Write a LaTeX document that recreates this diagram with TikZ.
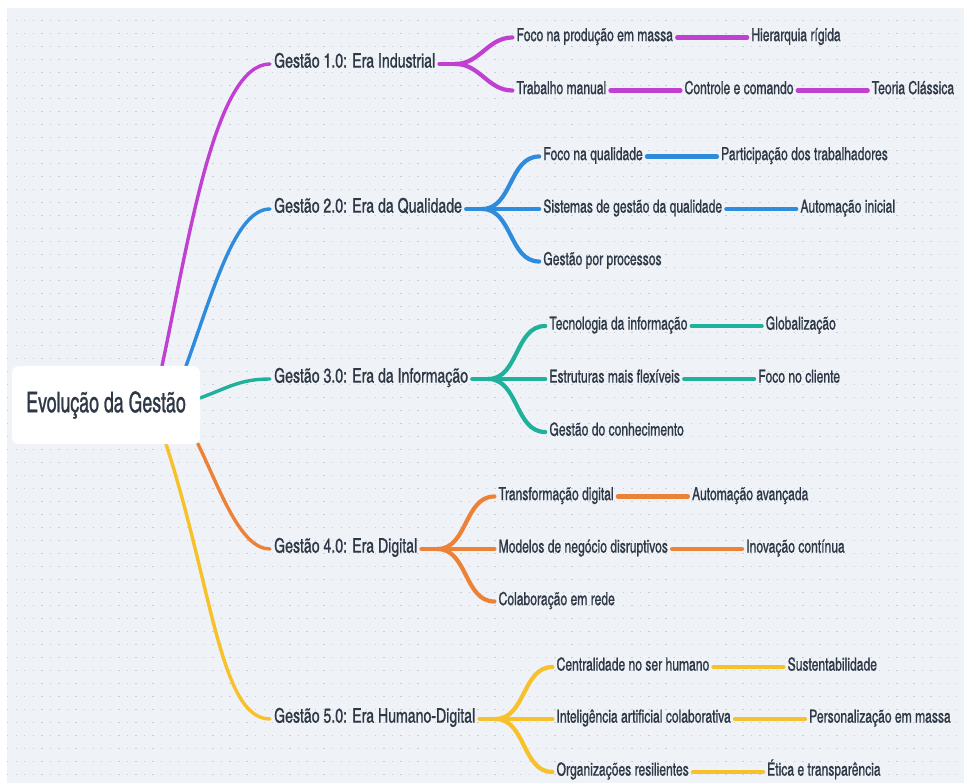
\documentclass[tikz,border=0pt]{standalone}
\usepackage{fontspec}
\setmainfont{texgyreheroscn-regular.otf}[FakeStretch=0.82, FakeBold=0.9]
\newfontfamily\erafont{texgyreheroscn-regular.otf}[FakeStretch=0.86, FakeBold=0.9]
\newfontfamily\rootfont{texgyreheroscn-regular.otf}[FakeStretch=0.76, FakeBold=0.9]
\usepackage{tikz}
\usetikzlibrary{positioning}

\definecolor{ink}{RGB}{46,56,70}
\definecolor{paper}{RGB}{239,242,246}
\definecolor{dotgray}{RGB}{200,205,214}
\definecolor{cmag}{RGB}{192,64,210}
\definecolor{cblue}{RGB}{47,139,219}
\definecolor{cteal}{RGB}{32,177,156}
\definecolor{corange}{RGB}{236,130,56}
\definecolor{cyellow}{RGB}{247,193,44}

\begin{document}
\begin{tikzpicture}[
      x=1pt, y=1pt,
      rootbox/.style={fill=white, rounded corners=7pt, minimum width=188pt, minimum height=78pt, text=ink, font=\rootfont\fontsize{28.5}{32}\selectfont},
      era/.style={text=ink, inner xsep=4pt, inner ysep=2pt, text height=0.72em, text depth=0pt, font=\erafont\fontsize{20}{23}\selectfont},
      topic/.style={text=ink, inner xsep=4pt, inner ysep=2pt, text height=0.72em, text depth=0pt, font=\fontsize{18}{21}\selectfont},
      limb/.style={line width=3.4pt, line cap=round},
      twig/.style={line width=4.2pt, line cap=round},
      dotrow/.style={dotgray, line width=1.3pt, dash pattern=on 1.3pt off 7.25pt},
      node distance=70pt
    ]
    \useasboundingbox (0,0) rectangle (964,-783);
    \fill[white] (0,0) rectangle (964,-783);
    \fill[paper] (7,-8) rectangle (964,-783);
    \foreach \r in {0,...,58}
      \draw[dotrow] (7.05,{-20.7-13*\r}) -- (964,{-20.7-13*\r});

    % eras
    \node[era, anchor=west] (g1) at (270,-64) {Gestão 1.0: Era Industrial};
    \node[era, anchor=west] (g2) at (270,-209) {Gestão 2.0: Era da Qualidade};
    \node[era, anchor=west] (g3) at (270,-379) {Gestão 3.0: Era da Informação};
    \node[era, anchor=west] (g4) at (270,-549) {Gestão 4.0: Era Digital};
    \node[era, anchor=west] (g5) at (270,-719) {Gestão 5.0: Era Humano-Digital};

    \draw[limb, cmag] (162,-366) coordinate (s1) to[out=78, in=180, out distance=130pt, in distance=55pt] (g1.west);
    \draw[limb, cblue] (186,-366) coordinate (s2) to[out=70, in=180, out distance=80pt, in distance=35pt] (g2.west);
    \draw[limb, cteal] (200,-398) coordinate (s3) to[out=20, in=180, out distance=30pt, in distance=30pt] (g3.west);
    \draw[limb, corange] (198,-444) coordinate (s4) to[out=-64, in=180, out distance=50pt, in distance=30pt] (g4.west);
    \draw[limb, cyellow] (166,-444) coordinate (s5) to[out=-72, in=180, out distance=150pt, in distance=50pt] (g5.west);

    \node[rootbox] (root) at (106,-405) {Evolução da Gestão};

    % era 1
    \coordinate[right=16pt of g1] (f1);
    \node[topic, right=73pt of g1, yshift=26.5pt] (k11) {Foco na produção em massa};
    \node[topic, right=73pt of g1, yshift=-26.5pt] (k12) {Trabalho manual};
    \node[topic, right=of k11] (l11) {Hierarquia rígida};
    \node[topic, right=of k12] (l12) {Controle e comando};
    \node[topic, right=of l12] (m12) {Teoria Clássica};
    \begin{scope}[twig, cmag]
      \draw (g1.east) -- (f1);
      \draw (f1) to[out=0, in=180] (k11.west);
      \draw (f1) to[out=0, in=180] (k12.west);
      \draw (k11) -- (l11);
      \draw (k12) -- (l12);
      \draw (l12) -- (m12);
    \end{scope}

    % era 2
    \coordinate[right=16pt of g2] (f2);
    \node[topic, right=73pt of g2, yshift=52.5pt] (k21) {Foco na qualidade};
    \node[topic, right=73pt of g2] (k22) {Sistemas de gestão da qualidade};
    \node[topic, right=73pt of g2, yshift=-52.5pt] (k23) {Gestão por processos};
    \node[topic, right=of k21] (l21) {Participação dos trabalhadores};
    \node[topic, right=of k22] (l22) {Automação inicial};
    \begin{scope}[twig, cblue]
      \draw (g2.east) -- (f2);
      \draw (f2) to[out=0, in=180] (k21.west);
      \draw (f2) -- (k22.west);
      \draw (f2) to[out=0, in=180] (k23.west);
      \draw (k21) -- (l21);
      \draw (k22) -- (l22);
    \end{scope}

    % era 3
    \coordinate[right=16pt of g3] (f3);
    \node[topic, right=73pt of g3, yshift=53pt] (k31) {Tecnologia da informação};
    \node[topic, right=73pt of g3] (k32) {Estruturas mais flexíveis};
    \node[topic, right=73pt of g3, yshift=-53pt] (k33) {Gestão do conhecimento};
    \node[topic, right=of k31] (l31) {Globalização};
    \node[topic, right=of k32] (l32) {Foco no cliente};
    \begin{scope}[twig, cteal]
      \draw (g3.east) -- (f3);
      \draw (f3) to[out=0, in=180] (k31.west);
      \draw (f3) -- (k32.west);
      \draw (f3) to[out=0, in=180] (k33.west);
      \draw (k31) -- (l31);
      \draw (k32) -- (l32);
    \end{scope}

    % era 4
    \coordinate[right=16pt of g4] (f4);
    \node[topic, right=73pt of g4, yshift=52.5pt] (k41) {Transformação digital};
    \node[topic, right=73pt of g4] (k42) {Modelos de negócio disruptivos};
    \node[topic, right=73pt of g4, yshift=-52.5pt] (k43) {Colaboração em rede};
    \node[topic, right=of k41] (l41) {Automação avançada};
    \node[topic, right=of k42] (l42) {Inovação contínua};
    \begin{scope}[twig, corange]
      \draw (g4.east) -- (f4);
      \draw (f4) to[out=0, in=180] (k41.west);
      \draw (f4) -- (k42.west);
      \draw (f4) to[out=0, in=180] (k43.west);
      \draw (k41) -- (l41);
      \draw (k42) -- (l42);
    \end{scope}

    % era 5
    \coordinate[right=16pt of g5] (f5);
    \node[topic, right=73pt of g5, yshift=52pt] (k51) {Centralidade no ser humano};
    \node[topic, right=73pt of g5] (k52) {Inteligência artificial colaborativa};
    \node[topic, right=73pt of g5, yshift=-53pt] (k53) {Organizações resilientes};
    \node[topic, right=of k51] (l51) {Sustentabilidade};
    \node[topic, right=of k52] (l52) {Personalização em massa};
    \node[topic, right=of k53] (l53) {Ética e transparência};
    \begin{scope}[twig, cyellow]
      \draw (g5.east) -- (f5);
      \draw (f5) to[out=0, in=180] (k51.west);
      \draw (f5) -- (k52.west);
      \draw (f5) to[out=0, in=180] (k53.west);
      \draw (k51) -- (l51);
      \draw (k52) -- (l52);
      \draw (k53) -- (l53);
    \end{scope}
  \end{tikzpicture}
\end{document}
